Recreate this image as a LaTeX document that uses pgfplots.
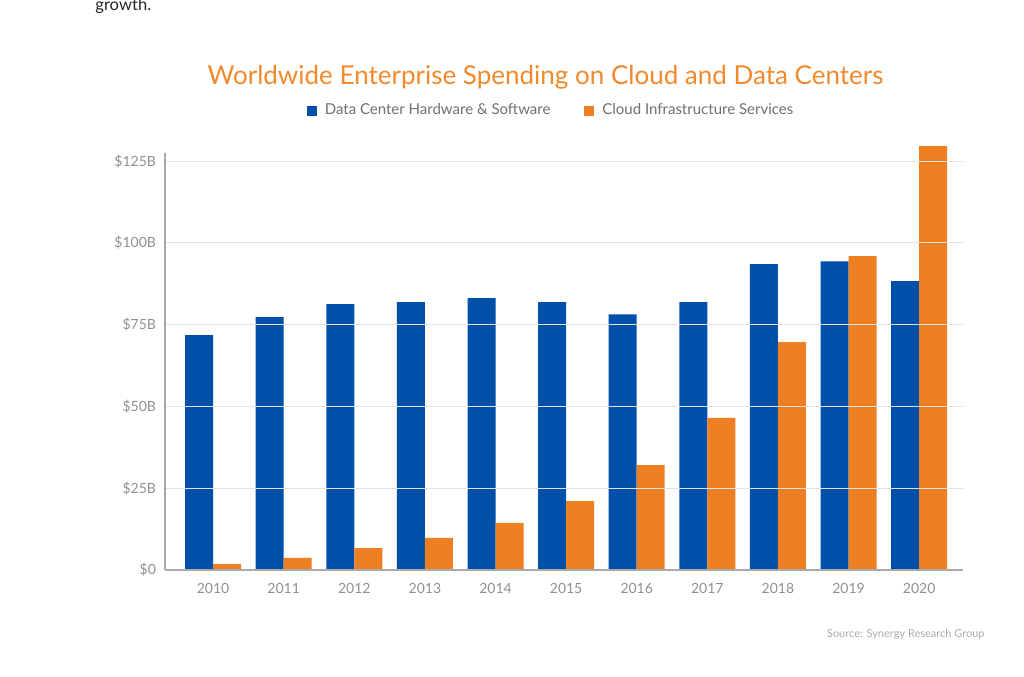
\documentclass[border=0pt]{standalone}
\usepackage{pgfplots}
\pgfplotsset{compat=1.18}
\usepackage{fontspec}
\setmainfont{Lato}
\definecolor{cblue}{HTML}{0050AA}
\definecolor{corange}{HTML}{EE7F22}
\definecolor{ctitle}{HTML}{F08A2C}
\definecolor{tickc}{HTML}{909090}
\definecolor{legc}{HTML}{707070}
\definecolor{gridc}{HTML}{E2E2E2}
\definecolor{axisc}{HTML}{AAAAAA}
\pgfplotstableread{
x blue orange
0 71.8 1.8
1 77.3 3.7
2 81.3 6.7
3 81.9 9.8
4 83.1 14.4
5 81.9 21.1
6 78.2 32.1
7 81.9 46.5
8 93.5 69.7
9 94.4 96.0
10 88.3 129.6
}\datatable
\begin{document}
\begin{tikzpicture}
\path[use as bounding box, fill=white] (0pt,0pt) rectangle (512pt,-338pt);
\node[anchor=west, inner sep=0pt, font=\fontsize{8.3}{9}\selectfont, text=black!85] at (47.5pt,-3pt) {growth.};
\node[font=\fontsize{13}{14}\selectfont, text=ctitle] at (272.75pt,-38.5pt) {Worldwide Enterprise Spending on Cloud and Data Centers};
\node[anchor=east, inner sep=0pt, font=\fontsize{5.5}{6}\selectfont, text=axisc] at (492.5pt,-317pt) {Source: Synergy Research Group};
\begin{axis}[
  at={(82.5pt,-285pt)}, anchor=south west,
  scale only axis, width=399pt, height=208.5pt,
  xmin=-0.68, xmax=10.62, ymin=0, ymax=127.5,
  clip=false,
  ybar=0pt, bar width=14pt,
  axis on top,
  axis x line*=bottom, axis y line*=left,
  axis line style={draw=axisc, line width=0.6pt, -},
  xtick=data,
  xticklabels={2010,2011,2012,2013,2014,2015,2016,2017,2018,2019,2020},
  ytick={0,25,50,75,100,125},
  yticklabels={\$0,\$25B,\$50B,\$75B,\$100B,\$125B},
  major tick length=0pt,
  ymajorgrids, grid style={draw=gridc, line width=0.5pt},
  ticklabel style={font=\fontsize{7}{8}\selectfont, text=tickc},
  xticklabel style={yshift=-3pt},
  yticklabel style={xshift=-1pt},
  legend columns=2,
  legend style={at={(0.485,1.108)}, anchor=center, yshift=-1.5pt, draw=none, fill=none,
    font=\fontsize{7.5}{8}\selectfont, text=legc, column sep=2pt,
    /tikz/every even column/.append style={column sep=15pt}},
  legend image code/.code={\fill[#1] (0pt,-2.5pt) rectangle (5pt,2.5pt);},
]
\addplot[fill=cblue, draw=none] table[x=x, y=blue] {\datatable};
\addplot[fill=corange, draw=none] table[x=x, y=orange] {\datatable};
\legend{Data Center Hardware \& Software, Cloud Infrastructure Services}
\end{axis}
\end{tikzpicture}
\end{document}
